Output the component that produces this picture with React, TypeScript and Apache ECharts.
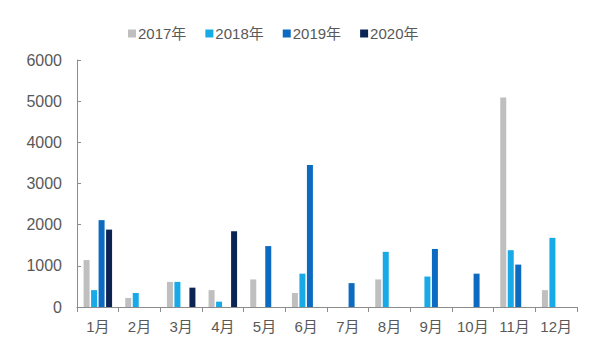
import React, { useEffect, useRef } from "react";
import * as echarts from "echarts";

const categories = ["1月", "2月", "3月", "4月", "5月", "6月", "7月", "8月", "9月", "10月", "11月", "12月"];
const seriesNames = ["2017年", "2018年", "2019年", "2020年"];
const v2017 = [1140, 220, 610, 410, 670, 340, null, 670, null, null, 5090, 410];
const v2018 = [410, 340, 610, 130, null, 810, null, 1340, 740, null, 1380, 1680];
const v2019 = [2110, null, null, null, 1480, 3450, 580, null, 1410, 810, 1030, null];
const v2020 = [1880, null, 470, 1840, null, null, null, null, null, null, null, null];
const colors = ["#BFBFBF", "#18AAE6", "#0C6BC1", "#0B2454"];
const yTicks = [0, 1000, 2000, 3000, 4000, 5000, 6000];

const FONT = "'Liberation Sans', Arial, 'Noto Sans CJK SC', sans-serif";

export default function App() {
  const ref = useRef<HTMLDivElement>(null);
  useEffect(() => {
    document.body.style.margin = "0";
    const chart = echarts.init(ref.current!, null, { renderer: "svg" });
    const data = [v2017, v2018, v2019, v2020];
    chart.setOption({
      animation: false,
      textStyle: { fontFamily: FONT },
      color: colors,
      legend: {
        top: 21,
        left: 123,
        itemWidth: 8,
        itemHeight: 8,
        itemGap: 19,
        icon: "rect",
        textStyle: { fontSize: 15, color: "#595959", fontFamily: FONT, padding: [0, 0, 0, -3] },
        data: seriesNames,
      },
      grid: { left: 77, right: 23, top: 60, bottom: 55 },
      xAxis: {
        type: "category",
        data: categories,
        axisLine: { lineStyle: { color: "#8C8C8C", width: 1 } },
        axisTick: { show: true, length: 5, lineStyle: { color: "#8C8C8C" } },
        axisLabel: { fontSize: 15, color: "#595959", margin: 12, fontFamily: FONT },
      },
      yAxis: {
        type: "value",
        min: yTicks[0],
        max: yTicks[yTicks.length - 1],
        interval: 1000,
        axisLine: { show: true, lineStyle: { color: "#8C8C8C", width: 1 } },
        axisTick: { show: true, inside: true, length: 4, lineStyle: { color: "#8C8C8C" } },
        splitLine: { show: false },
        axisLabel: {
          fontSize: 16,
          color: "#595959",
          margin: 15,
          fontFamily: FONT,
          formatter: (v: number) => String(v),
        },
      },
      series: seriesNames.map((name, i) => ({
        name,
        type: "bar",
        data: data[i],
        barWidth: 6,
        barGap: "25%",
        itemStyle: { color: colors[i] },
      })),
    });
    return () => chart.dispose();
  }, []);
  return <div ref={ref} style={{ width: 600, height: 362 }} />;
}
